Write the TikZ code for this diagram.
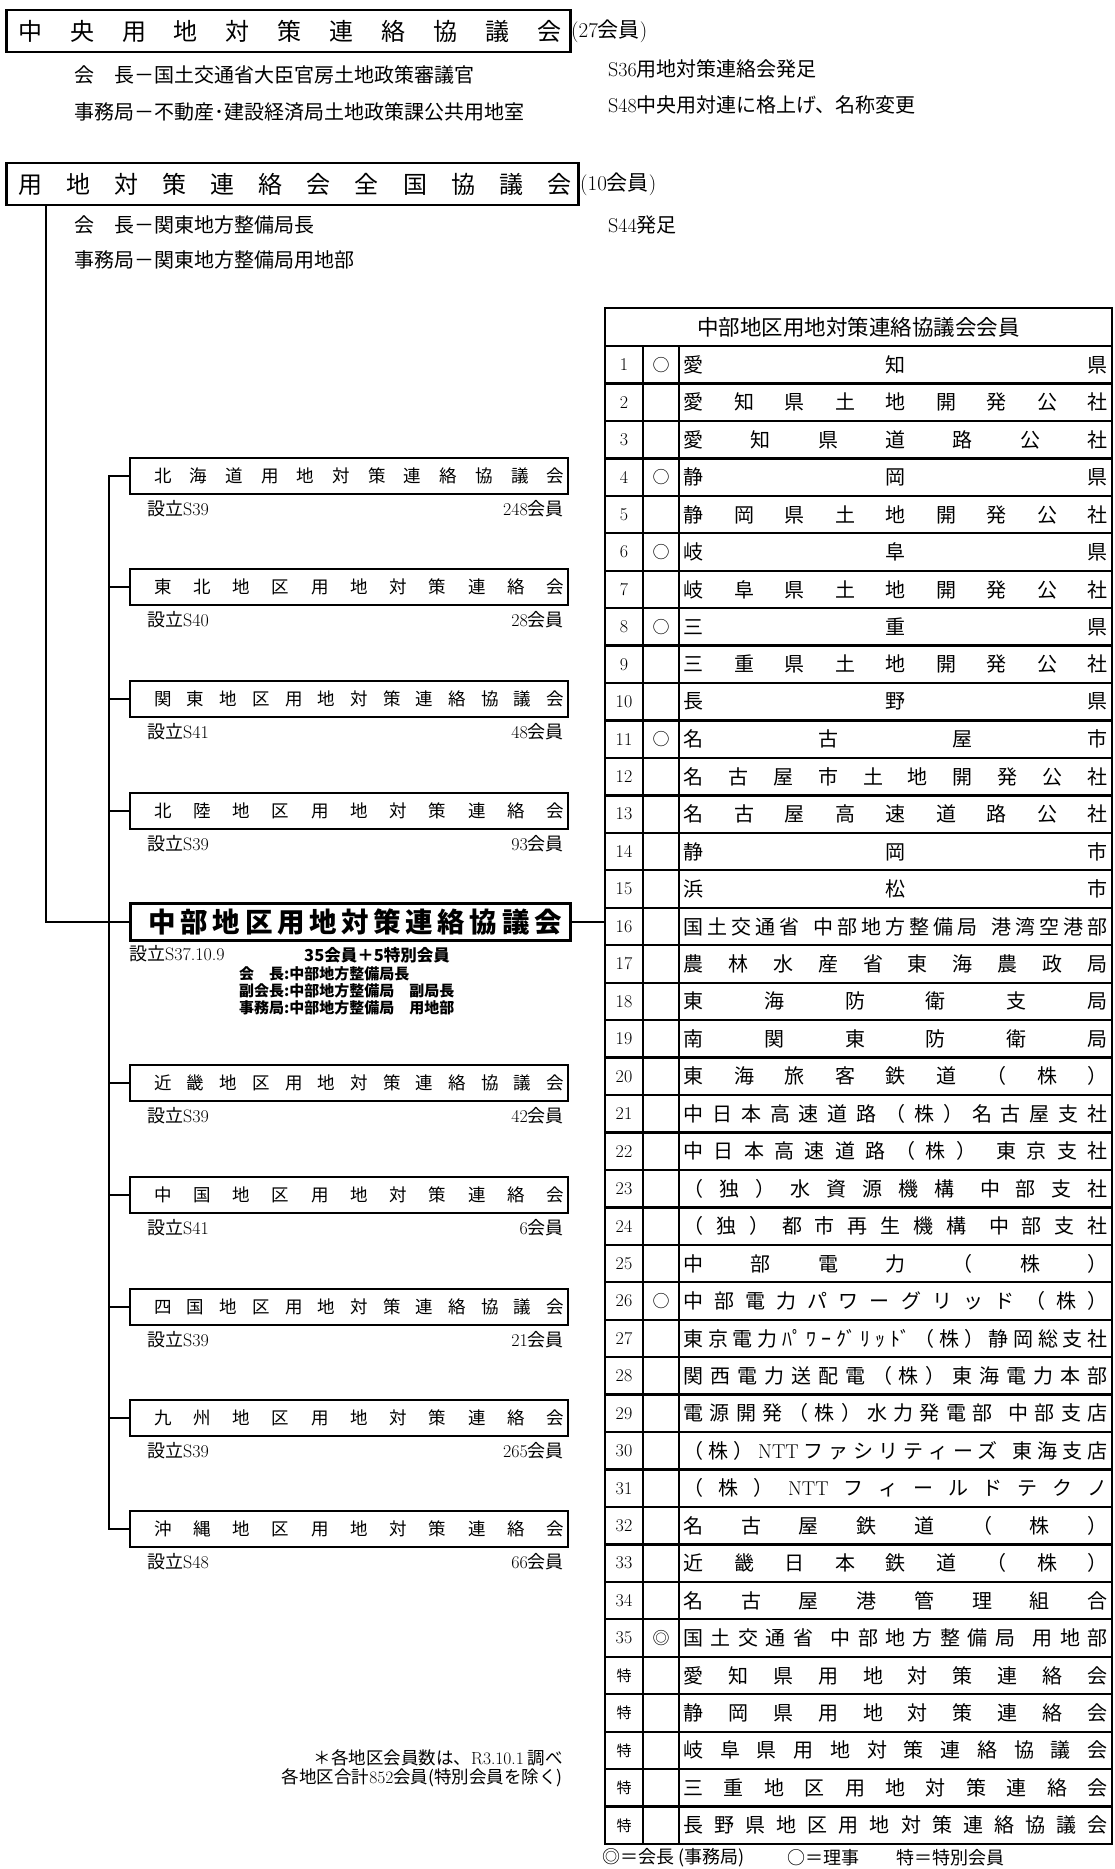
\documentclass[tikz,border=0pt]{standalone}
\usepackage{fontspec}
\newfontfamily\jp{Noto Sans CJK JP}
\usetikzlibrary{calc}

\ExplSyntaxOn
\bool_new:N \l_sp_first_bool
\NewDocumentCommand\spreadout{mm}{
  \hbox_to_wd:nn {#1}{
    \bool_set_true:N \l_sp_first_bool
    \tl_map_inline:nn {#2}{
      \bool_if:NTF \l_sp_first_bool {\bool_set_false:N \l_sp_first_bool}{\hfil}
      {##1}
    }
  }
}
\ExplSyntaxOff

\newcommand\lm{\rmfamily}
\newcommand\gap{\hspace{0.5em}}
\newcommand\toku{{\jp\fontsize{15}{15}\selectfont 特}}
\newcommand\trow[4]{%
  \node[numcell] (n#1) at (624,{346+(#1-0.5)*37.45}) {#2};
  \node[markcell] (m#1) at (661,{346+(#1-0.5)*37.45}) {#3};
  \node[namecell] (t#1) at (895.5,{346+(#1-0.5)*37.45}) {\spreadout{424pt}{#4}};
}

\tikzset{
  topbox/.style={draw, line width=2.6pt, inner sep=0pt, anchor=west, minimum height=42pt, font=\jp\fontsize{24}{24}\selectfont},
  regbox/.style={draw, line width=2.4pt, inner sep=0pt, anchor=west, minimum height=36pt, font=\jp\fontsize{17.5}{17.5}\selectfont},
  chububox/.style={draw, line width=3.4pt, inner sep=0pt, anchor=west, minimum height=37pt, font=\jp\bfseries\fontsize{27.5}{27.5}\selectfont},
  desctext/.style={anchor=west, inner sep=0pt, font=\jp\fontsize{20}{20}\selectfont},
  subtext/.style={inner sep=0pt, font=\jp\fontsize{18}{18}\selectfont},
  chubusub/.style={anchor=west, inner sep=0pt, font=\jp\bfseries\fontsize{15}{15}\selectfont},
  treeline/.style={line width=2.2pt, line cap=rect},
  gridline/.style={line width=2.3pt},
  numcell/.style={inner sep=0pt, font=\fontsize{18}{18}\selectfont},
  markcell/.style={inner sep=0pt, font=\jp\fontsize{17}{17}\selectfont},
  namecell/.style={inner sep=0pt, font=\jp\fontsize{20}{20}\selectfont},
  hdrcell/.style={inner sep=0pt, font=\jp\fontsize{21.5}{21.5}\selectfont},
  legtext/.style={anchor=west, inner sep=0pt, font=\jp\fontsize{18}{18}\selectfont},
  foottext/.style={anchor=east, inner sep=0pt, font=\jp\fontsize{17.5}{17.5}\selectfont},
}

\begin{document}
\begin{tikzpicture}[x=1pt,y=-1pt]
\useasboundingbox[fill=white] (0,0) rectangle (1115,1869);

% ---- top boxes ----
\node[topbox] (chuo) at (5,31) {\hbox to 564pt{\hskip 12pt\spreadout{543pt}{中央用地対策連絡協議会}\hfil}};
\node[desctext, font=\jp\fontsize{21}{21}\selectfont] (chuoN) at (571,31) {{\lm (27}会員{\lm )}};
\node[desctext] (chuoA) at (74,75) {会　長－国土交通省大臣官房土地政策審議官};
\node[desctext] (chuoB) at (74,112) {事務局－不動産･建設経済局土地政策課公共用地室};
\node[desctext] (chuoC) at (608,69) {{\lm S36}用地対策連絡会発足};
\node[desctext] (chuoD) at (608,105) {{\lm S48}中央用対連に格上げ、名称変更};

\node[topbox] (zenkoku) at (5,184) {\hbox to 572pt{\hskip 12pt\spreadout{553pt}{用地対策連絡会全国協議会}\hfil}};
\node[desctext, font=\jp\fontsize{21}{21}\selectfont] (zenN) at (580,184) {{\lm (10}会員{\lm )}};
\node[desctext] (zenA) at (74,225) {会　長－関東地方整備局長};
\node[desctext] (zenC) at (608,225) {{\lm S44}発足};
\node[desctext] (zenB) at (74,260) {事務局－関東地方整備局用地部};

% ---- regional boxes ----
\newcommand\region[5]{%
  \node[regbox] (#1) at (129,#2) {\hbox to 438pt{\hskip 24pt\spreadout{410pt}{#3}\hfil}};
  \node[subtext, anchor=west] (#1E) at (147,#2+33) {設立{\lm #4}};
  \node[subtext, anchor=east] (#1M) at (564,#2+33) {{\lm #5}会員};
}
\region{hokkaido}{476}{北海道用地対策連絡協議会}{S39}{248}
\region{tohoku}{587}{東北地区用地対策連絡会}{S40}{28}
\region{kanto}{699}{関東地区用地対策連絡協議会}{S41}{48}
\region{hokuriku}{811}{北陸地区用地対策連絡会}{S39}{93}
\region{kinki}{1083}{近畿地区用地対策連絡協議会}{S39}{42}
\region{chugoku}{1195}{中国地区用地対策連絡会}{S41}{6}
\region{shikoku}{1307}{四国地区用地対策連絡協議会}{S39}{21}
\region{kyushu}{1418}{九州地区用地対策連絡会}{S39}{265}
\region{okinawa}{1529}{沖縄地区用地対策連絡会}{S48}{66}

% ---- Chubu ----
\node[chububox] (chubu) at (129,922) {\hbox to 440pt{\hskip 18pt\spreadout{413pt}{中部地区用地対策連絡協議会}\hfil}};
\node[subtext, anchor=west] (chubuE) at (129,954) {設立{\lm S37.10.9}};
\node[chubusub, font=\jp\bfseries\fontsize{16.5}{16.5}\selectfont] (chubuM) at (304,955) {35会員＋5特別会員};
\node[chubusub] (chubuA) at (239,974) {会　長:中部地方整備局長};
\node[chubusub] (chubuB) at (239,991) {副会長:中部地方整備局　副局長};
\node[chubusub] (chubuC) at (239,1008) {事務局:中部地方整備局　用地部};

% ---- tree ----
\coordinate (spine) at (109,476);
\draw[treeline] ([xshift=41pt]zenkoku.south west) |- (chubu.west);
\draw[treeline] (hokkaido.west -| spine) -- (okinawa.west -| spine);
\foreach \r in {hokkaido,tohoku,kanto,hokuriku,kinki,chugoku,shikoku,kyushu,okinawa}
  \draw[treeline] (\r.west -| spine) -- (\r.west);

% ---- table ----
\coordinate (tabL) at (605,346);
\draw[gridline] (605,308) rectangle (1112,1844);
\foreach \k in {0,...,39}
  \draw[gridline] (605,{346+\k*37.45}) -- (1112,{346+\k*37.45});
\draw[gridline] (643,346) -- (643,1844);
\draw[gridline] (679,346) -- (679,1844);
\node[hdrcell] (hdr) at (858.5,327.5) {中部地区用地対策連絡協議会会員};
\draw[treeline] (chubu.east) -- (chubu.east -| tabL);

\trow{1}{1}{○}{愛知県}
\trow{2}{2}{}{愛知県土地開発公社}
\trow{3}{3}{}{愛知県道路公社}
\trow{4}{4}{○}{静岡県}
\trow{5}{5}{}{静岡県土地開発公社}
\trow{6}{6}{○}{岐阜県}
\trow{7}{7}{}{岐阜県土地開発公社}
\trow{8}{8}{○}{三重県}
\trow{9}{9}{}{三重県土地開発公社}
\trow{10}{10}{}{長野県}
\trow{11}{11}{○}{名古屋市}
\trow{12}{12}{}{名古屋市土地開発公社}
\trow{13}{13}{}{名古屋高速道路公社}
\trow{14}{14}{}{静岡市}
\trow{15}{15}{}{浜松市}
\trow{16}{16}{}{国土交通省{\gap 中}部地方整備局{\gap 港}湾空港部}
\trow{17}{17}{}{農林水産省東海農政局}
\trow{18}{18}{}{東海防衛支局}
\trow{19}{19}{}{南関東防衛局}
\trow{20}{20}{}{東海旅客鉄道（株）}
\trow{21}{21}{}{中日本高速道路（株）名古屋支社}
\trow{22}{22}{}{中日本高速道路（株）{\gap 東}京支社}
\trow{23}{23}{}{（独）水資源機構{\gap 中}部支社}
\trow{24}{24}{}{（独）都市再生機構{\gap 中}部支社}
\trow{25}{25}{}{中部電力（株）}
\trow{26}{26}{○}{中部電力パワーグリッド（株）}
\trow{27}{27}{}{東京電力{ﾊﾟ}ﾜｰ{ｸﾞ}ﾘｯ{ﾄﾞ}（株）静岡総支社}
\trow{28}{28}{}{関西電力送配電（株）東海電力本部}
\trow{29}{29}{}{電源開発（株）水力発電部{\gap 中}部支店}
\trow{30}{30}{}{（株）{\lm NTT}ファシリティーズ{\gap 東}海支店}
\trow{31}{31}{}{（株）{\lm NTT}フィールドテクノ}
\trow{32}{32}{}{名古屋鉄道（株）}
\trow{33}{33}{}{近畿日本鉄道（株）}
\trow{34}{34}{}{名古屋港管理組合}
\trow{35}{35}{◎}{国土交通省{\gap 中}部地方整備局{\gap 用}地部}
\trow{36}{\toku}{}{愛知県用地対策連絡会}
\trow{37}{\toku}{}{静岡県用地対策連絡会}
\trow{38}{\toku}{}{岐阜県用地対策連絡協議会}
\trow{39}{\toku}{}{三重地区用地対策連絡会}
\trow{40}{\toku}{}{長野県地区用地対策連絡協議会}

% ---- legend & footnote ----
\node[legtext] (lg1) at (602,1858) {◎＝会長 (事務局)};
\node[legtext] (lg2) at (787,1858) {○＝理事};
\node[legtext] (lg3) at (896,1858) {特＝特別会員};
\node[foottext] (fn1) at (563,1758) {＊各地区会員数は、{\lm R3.10.1} 調べ};
\node[foottext] (fn2) at (563,1778) {各地区合計{\lm 852}会員(特別会員を除く)};
\end{tikzpicture}
\end{document}
